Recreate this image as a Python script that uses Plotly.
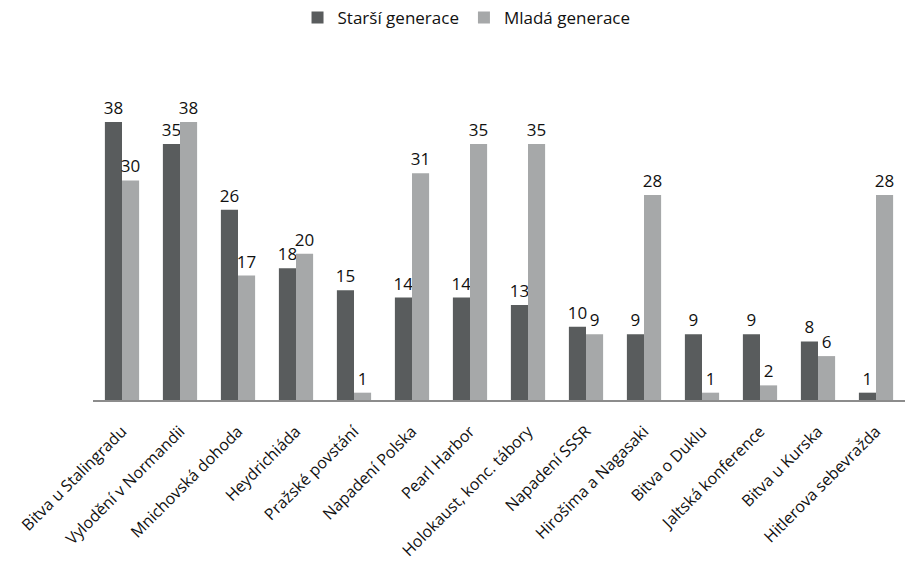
import plotly.graph_objects as go

categories = [
    "Bitva u Stalingradu", "Vylodění v Normandii", "Mnichovská dohoda",
    "Heydrichiáda", "Pražské povstání", "Napadení Polska", "Pearl Harbor",
    "Holokaust, konc. tábory", "Napadení SSSR", "Hirošima a Nagasaki",
    "Bitva o Duklu", "Jaltská konference", "Bitva u Kurska",
    "Hitlerova sebevražda",
]
starsi = [38, 35, 26, 18, 15, 14, 14, 13, 10, 9, 9, 9, 8, 1]
mlada = [30, 38, 17, 20, 1, 31, 35, 35, 9, 28, 1, 2, 6, 28]

FONT = "Open Sans"
TEXT_COLOR = "#111111"

fig = go.Figure()
fig.add_trace(go.Bar(
    name="Starší generace", x=categories, y=starsi,
    marker=dict(color="#595c5d", line=dict(width=0)),
    text=starsi, textposition="outside", cliponaxis=False,
    constraintext="none",
    textfont=dict(family=FONT, size=17, color=TEXT_COLOR),
))
fig.add_trace(go.Bar(
    name="Mladá generace", x=categories, y=mlada,
    marker=dict(color="#a6a8a9", line=dict(width=0)),
    text=mlada, textposition="outside", cliponaxis=False,
    constraintext="none",
    textfont=dict(family=FONT, size=17, color=TEXT_COLOR),
))

fig.update_layout(
    width=905, height=565,
    margin=dict(l=93, r=0, t=70, b=165, autoexpand=False),
    paper_bgcolor="white", plot_bgcolor="white",
    barmode="group", bargap=0.41, bargroupgap=0,
    font=dict(family=FONT, size=17, color=TEXT_COLOR),
    showlegend=True,
    legend=dict(
        orientation="h", x=0.46, xanchor="center",
        y=1.0, yref="container", yanchor="top",
        font=dict(family=FONT, size=17, color=TEXT_COLOR),
        itemwidth=30, traceorder="normal",
    ),
    xaxis=dict(
        tickangle=-45, showgrid=False, ticks="", automargin=False,
        showline=True, linecolor="#8c8c8c", linewidth=1.5,
        tickfont=dict(family=FONT, size=16, color=TEXT_COLOR),
        ticklabelstandoff=14,
    ),
    yaxis=dict(
        range=[0, 45.1], visible=False, showgrid=False, zeroline=False,
        automargin=False,
    ),
)

fig.write_html("out.html")
